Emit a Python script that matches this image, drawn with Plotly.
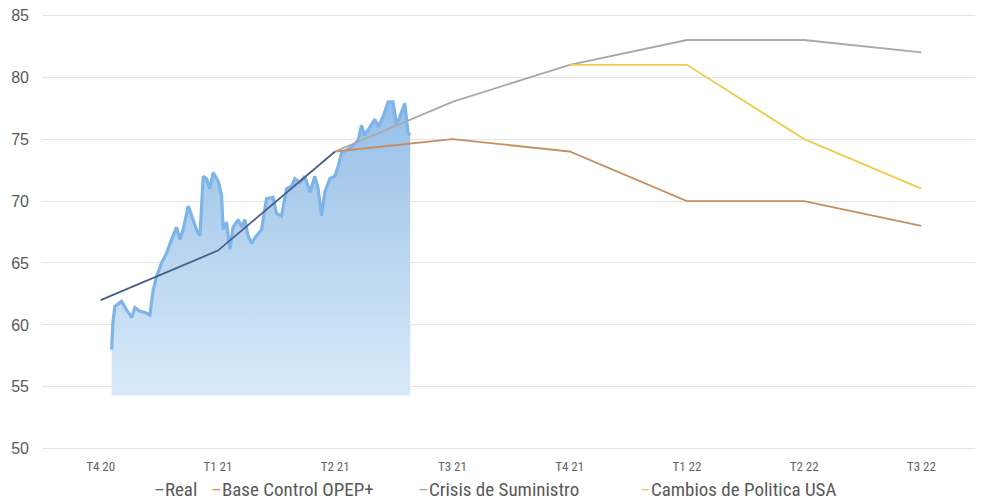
import plotly.graph_objects as go

# ---- data ----
quarters = ["T4 20", "T1 21", "T2 21", "T3 21", "T4 21", "T1 22", "T2 22", "T3 22"]
real = [62, 66, 74, None, None, None, None, None]
base_opep = [None, None, 74, 75, 74, 70, 70, 68]
crisis = [None, None, 74, 78, 81, 83, 83, 82]
cambios = [None, None, None, None, 81, 81, 75, 71]

# daily price snapshot (position in quarter units, price)
price_pos = [0.094, 0.105, 0.122, 0.179, 0.222, 0.264, 0.292, 0.335, 0.378, 0.420,
             0.448, 0.477, 0.520, 0.563, 0.605, 0.648, 0.676, 0.704, 0.747, 0.776,
             0.818, 0.847, 0.875, 0.904, 0.932, 0.960, 1.003, 1.032, 1.045, 1.074,
             1.102, 1.130, 1.173, 1.202, 1.230, 1.258, 1.287, 1.330, 1.373, 1.415,
             1.471, 1.500, 1.543, 1.586, 1.628, 1.656, 1.699, 1.742, 1.785, 1.827,
             1.855, 1.884, 1.912, 1.955, 1.997, 2.026, 2.055, 2.097, 2.153, 2.196,
             2.225, 2.253, 2.296, 2.338, 2.367, 2.409, 2.452, 2.494, 2.523, 2.552,
             2.594, 2.622, 2.640]
price_val = [58.0, 60.2, 61.5, 61.9, 61.2, 60.6, 61.4, 61.1, 61.0, 60.8,
             62.8, 63.9, 65.0, 65.8, 66.9, 67.9, 66.9, 67.7, 69.6, 68.8,
             67.7, 67.2, 72.0, 71.8, 71.0, 72.3, 71.6, 70.4, 67.7, 68.3,
             66.1, 67.9, 68.5, 67.9, 68.5, 67.2, 66.6, 67.2, 67.7, 70.2,
             70.3, 69.0, 68.8, 71.0, 71.2, 71.8, 71.5, 72.0, 70.7, 72.0,
             71.0, 68.8, 70.7, 71.8, 72.0, 72.8, 73.9, 74.1, 74.5, 74.9,
             76.1, 75.3, 76.0, 76.6, 76.0, 76.8, 78.0, 78.0, 76.2, 76.8,
             77.9, 75.5, 75.3]
price_floor = 54.3

series = [
    ("Real", real, "#4b5d85"),
    ("Base Control OPEP+", base_opep, "#c68f5f"),
    ("Crisis de Suministro", crisis, "#a8a8a8"),
    ("Cambios de Politica USA", cambios, "#eccd4c"),
]
legend_x = [0.117, 0.178, 0.399, 0.635]  # paper positions of legend entries

xpos = list(range(len(quarters)))
fig = go.Figure()

# price area snapshot
fig.add_trace(go.Scatter(x=[price_pos[0], price_pos[-1]], y=[price_floor, price_floor],
                         mode="lines", line=dict(width=0), showlegend=False, hoverinfo="skip"))
fig.add_trace(go.Scatter(x=price_pos, y=price_val, mode="lines", fill="tonexty",
                         line=dict(width=0),
                         fillgradient=dict(type="vertical",
                                           colorscale=[[0, "#d9eaf8"], [1, "#96bfe7"]]),
                         showlegend=False, hoverinfo="skip"))
fig.add_trace(go.Scatter(x=price_pos, y=price_val, mode="lines",
                         line=dict(color="#7db4ea", width=3.2),
                         showlegend=False, hoverinfo="skip"))

for name, vals, col in series:
    fig.add_trace(go.Scatter(x=xpos, y=vals, mode="lines", name=name,
                             line=dict(color=col, width=1.8), showlegend=False))

narrow = "Liberation Sans Narrow, Arial Narrow, Roboto Condensed, sans-serif"
for (name, _, col), lx in zip(series, legend_x):
    fig.add_annotation(text=f"<span style='color:{col}'>–</span>{name}",
                       xref="paper", yref="paper", x=lx, y=-0.091,
                       xanchor="left", yanchor="middle", showarrow=False,
                       font=dict(family=narrow, size=19, color="#595959"))

fig.update_layout(
    width=975, height=493,
    margin=dict(l=34, r=3, t=6, b=51, autoexpand=False),
    paper_bgcolor="white", plot_bgcolor="white",
    xaxis=dict(range=[-0.5, 7.5], tickvals=xpos, ticktext=quarters,
               showgrid=False, zeroline=False, showline=False, automargin=False,
               ticklabelstandoff=7,
               tickfont=dict(family=narrow, size=13, color="#656565")),
    yaxis=dict(range=[49.9, 85.1], tickvals=[50, 55, 60, 65, 70, 75, 80, 85],
               showgrid=True, gridcolor="#e4e4e4", ticklabeloverflow="allow",
               automargin=False,
               zeroline=False, showline=False, ticklabelstandoff=12,
               tickfont=dict(family="Liberation Sans, Arial, sans-serif", size=16,
                             color="#595959")),
)

fig.write_html("out.html")
